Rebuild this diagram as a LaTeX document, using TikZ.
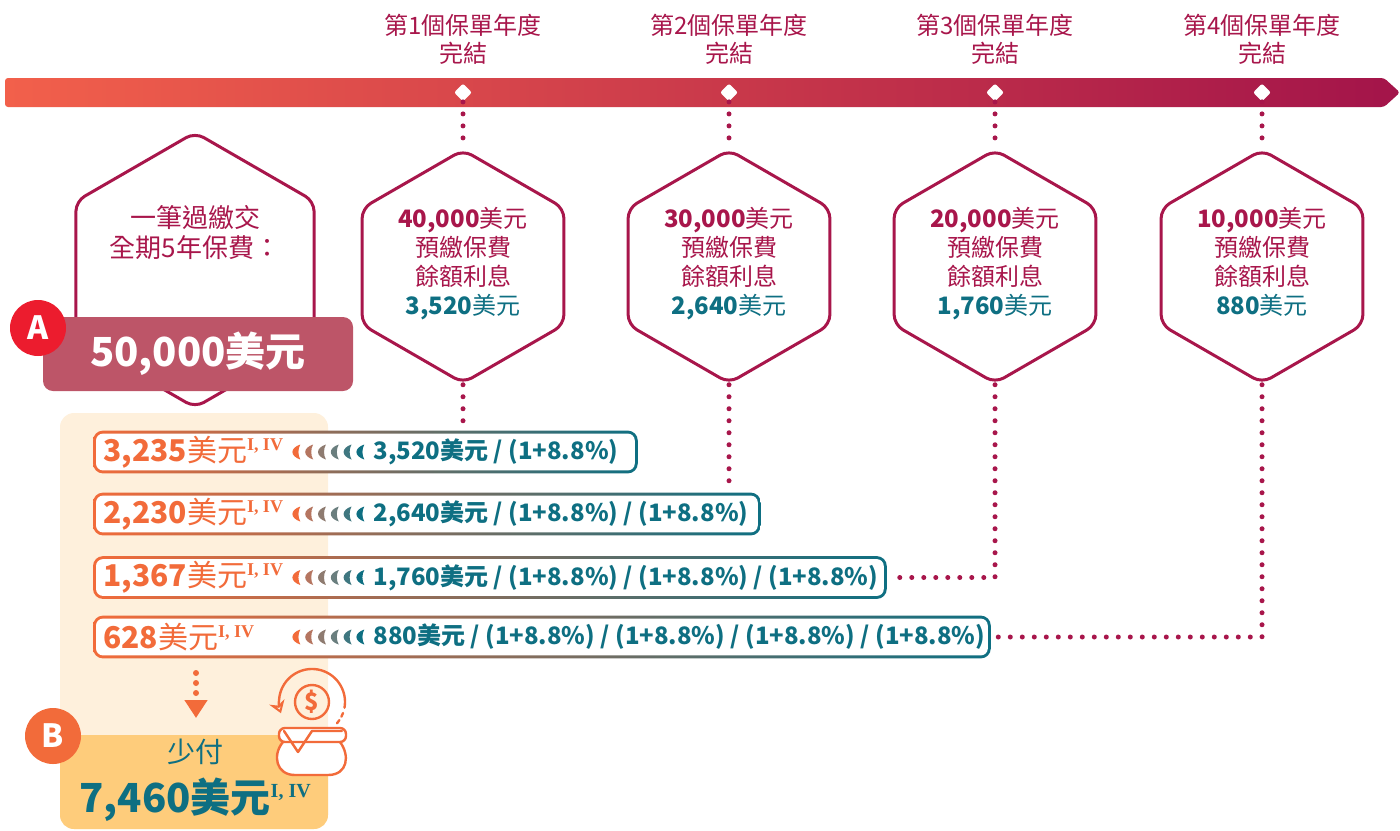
\documentclass[tikz,border=0pt]{standalone}
\usepackage{fontspec}
\setmainfont{Noto Sans CJK TC}
\newfontfamily\supfont{Liberation Serif}
\usetikzlibrary{shapes.geometric,positioning,arrows.meta}
\definecolor{crim}{HTML}{A8164B}
\definecolor{tealc}{HTML}{0E6F82}
\definecolor{orng}{HTML}{F26B3A}
\definecolor{badgec}{HTML}{BD5568}
\definecolor{redA}{HTML}{EC1C2E}
\definecolor{peach}{HTML}{FEF0DC}
\definecolor{gold}{HTML}{FECC7B}
\definecolor{tlleft}{HTML}{F2604B}
\definecolor{tlright}{HTML}{A3144A}
\definecolor{chvb}{HTML}{B57560}
\definecolor{chvc}{HTML}{8E7B70}
\definecolor{chvd}{HTML}{6A7E7E}
\definecolor{chve}{HTML}{3F7780}
\newcommand{\supiv}[2]{\raisebox{#2}{\supfont\bfseries\fontsize{#1}{#1}\selectfont I, IV}}
\tikzset{
    %Define standard arrow tip
    >=Stealth,
    %Define style for hexagons
    hexa/.style={
           regular polygon,
           regular polygon sides=6,
           shape border rotate=30,
           draw=crim, line width=1.5pt,
           rounded corners=5pt,
           minimum size=116.5pt,
           inner sep=0pt,
           align=center,
           text=crim,
           text depth=5.5pt,
           font=\fontsize{12}{14.5}\selectfont,
           },
    tick/.style={
           diamond,
           fill=white,
           rounded corners=1pt,
           minimum size=9pt,
           inner sep=0pt,
           },
    tlabel/.style={
           align=center,
           text=crim,
           font=\fontsize{12}{14}\selectfont,
           },
    badgeltr/.style={
           circle,
           minimum size=28pt,
           inner sep=0pt,
           text=white,
           font=\fontsize{16}{16}\selectfont\bfseries,
           },
    rowbox/.style={
           rectangle,
           minimum height=21pt,
           inner sep=0pt,
           anchor=west,
           },
    valtxt/.style={
           anchor=west,
           inner sep=0pt,
           text=orng,
           font=\fontsize{15}{15}\selectfont,
           },
    calctxt/.style={
           anchor=west,
           inner sep=0pt,
           text=tealc,
           font=\fontsize{12}{12}\selectfont\bfseries,
           },
    % Define dotted connector style
    dotline/.style={
           draw=crim,
           line width=2.5pt,
           line cap=round,
           dash pattern=on 0pt off 6pt,
           },
    chev/.pic={
           \fill (3.5,-7.5) .. controls (-7,-4) and (-7,4) .. (3.5,7.5)
                 .. controls (1,3) and (1,-3) .. cycle;
           },
}
\begin{document}
\begin{tikzpicture}[x=0.5pt,y=-0.5pt]
\useasboundingbox (0,0) rectangle (1400,830);
% timeline
\shade[left color=tlleft, right color=tlright, rounded corners=1.5pt]
    (5,78) -- (1384,78) -- (1400,92.5) -- (1384,107) -- (5,107) -- cycle;
\foreach \i/\x in {1/463,2/729,3/995,4/1262} {
    \node[tick] (d\i) at (\x,92.5) {};
    \node[tlabel] (t\i) at (\x,39) {第{\i}個保單年度\\完結};
}
% background panels
\fill[peach, rounded corners=7pt] (60,413) rectangle (328,829);
\fill[gold] (60,735) -- (328,735) [rounded corners=7pt] -- (328,829) -- (60,829) [sharp corners] -- cycle;
% hexagons
\node[hexa, minimum size=137.5pt] (h0) at (195,270) {};
\node[tlabel, font=\fontsize{13}{15}\selectfont] (h0t) at (195,233) {一筆過繳交\\全期5年保費：};
\node[hexa] (h1) at (463,266.5) {\textbf{40,000}美元\\預繳保費\\餘額利息\\\textcolor{tealc}{\textbf{3,520}美元}};
\node[hexa] (h2) at (729,266.5) {\textbf{30,000}美元\\預繳保費\\餘額利息\\\textcolor{tealc}{\textbf{2,640}美元}};
\node[hexa] (h3) at (995,266.5) {\textbf{20,000}美元\\預繳保費\\餘額利息\\\textcolor{tealc}{\textbf{1,760}美元}};
\node[hexa] (h4) at (1262,266.5) {\textbf{10,000}美元\\預繳保費\\餘額利息\\\textcolor{tealc}{\textbf{880}美元}};
% A badge
\node[rectangle, fill=badgec, rounded corners=5pt, minimum width=155pt, minimum height=37pt,
      text=white, font=\fontsize{20}{20}\selectfont\bfseries] (pay) at (198,354) {50,000美元};
\node[badgeltr, fill=redA] (la) at (38,328) {A};
% rows
\node[rowbox, minimum width=272pt] (r1) at (93,452) {};
\node[rowbox, minimum width=333.5pt] (r2) at (93,514) {};
\node[rowbox, minimum width=396.5pt] (r3) at (93,577.5) {};
\node[rowbox, minimum width=448.5pt] (r4) at (93,637) {};
\foreach \r in {r1,r2,r3,r4} {
    \shade[left color=orng, right color=tealc, rounded corners=5pt] (\r.north west) rectangle (\r.south east);
    \fill[white, rounded corners=3.5pt] ([shift={(1.5pt,-1.5pt)}]\r.north west) rectangle ([shift={(-1.5pt,1.5pt)}]\r.south east);
    \foreach \c [count=\k] in {orng,chvb,chvc,chvd,chve,tealc}
        \pic[color=\c] at ([xshift={(95.5+6.4*\k)*1pt}]\r.west) {chev};
}
\node[valtxt, right=5pt of r1.west] (v1) {\textbf{3,235}美元\supiv{9}{5.5pt}};
\node[valtxt, right=5pt of r2.west] (v2) {\textbf{2,230}美元\supiv{9}{5.5pt}};
\node[valtxt, right=5pt of r3.west] (v3) {\textbf{1,367}美元\supiv{9}{5.5pt}};
\node[valtxt, right=5pt of r4.west] (v4) {\textbf{628}美元\supiv{9}{5.5pt}};
\node[calctxt, right=140pt of r1.west] (c1) {3,520美元 / (1+8.8\%)};
\node[calctxt, right=140pt of r2.west] (c2) {2,640美元 / (1+8.8\%) / (1+8.8\%)};
\node[calctxt, right=140pt of r3.west] (c3) {1,760美元 / (1+8.8\%) / (1+8.8\%) / (1+8.8\%)};
\node[calctxt, right=140pt of r4.west] (c4) {880美元 / (1+8.8\%) / (1+8.8\%) / (1+8.8\%) / (1+8.8\%)};
% dotted connectors
\foreach \i in {1,2,3,4}
    \draw[dotline] (d\i.south) -- (h\i.north);
\draw[dotline] (h1.south) -- (h1.south |- r1.north);
\draw[dotline] (h2.south) -- (h2.south |- r2.north);
\draw[dotline, shorten >=3pt] (h3.south) |- (r3.east);
\draw[dotline, shorten >=3pt] (h4.south) |- (r4.east);
% B result
\coordinate (ab1) at (196,673);
\coordinate (ab2) at (196,718);
\draw[draw=orng, line width=3pt, line cap=round, dash pattern=on 0pt off 5pt,
      -{Triangle[length=9pt,width=11pt,fill=orng,color=orng]}] (ab1) -- (ab2);
\node[badgeltr, fill=orng] (lb) at (53,736) {B};
\node[text=tealc, font=\fontsize{14}{14}\selectfont] (less) at (195,752) {少付};
\node[text=tealc, font=\fontsize{20}{20}\selectfont\bfseries] (save) at (195,800) {7,460美元\supiv{10}{7.5pt}};
% money icon
\begin{scope}[orng, line width=1.2pt, line cap=round, line join=round]
\fill[white] (283,742) .. controls (272,755) and (276,775) .. (295,775) -- (328,775)
    .. controls (348,775) and (350,755) .. (340,742) -- cycle;
\draw (283,742) .. controls (272,755) and (276,775) .. (295,775) -- (328,775)
    .. controls (348,775) and (350,755) .. (340,742);
\draw[fill=white, rounded corners=3pt] (279,728) rectangle (346,742);
\draw (284,731) -- (298,752) -- (312,731) -- (342,731);
\draw (312,702) circle (17);
\node[text=orng, font=\fontsize{12}{12}\selectfont\bfseries] (dol) at (312,702) {\$};
\draw[-{Stealth[length=6pt,width=8pt,open]}] (344.5,707.7) arc (10:-200:33);
\draw[dash pattern=on 2pt off 2pt] (343,713) arc (20:45:33);
\end{scope}
\end{tikzpicture}
\end{document}
